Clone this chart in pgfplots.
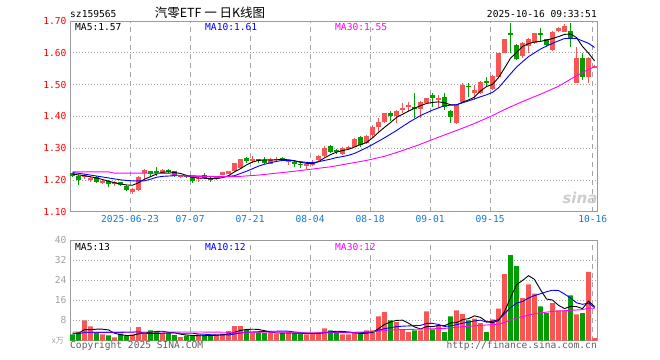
\documentclass[border=0pt]{standalone}
\usepackage{fontspec}
\usepackage{pgfplots}
\usepackage{pgfplotstable}
\pgfplotsset{compat=1.18}
\setmainfont{DejaVu Sans Mono}
\newfontfamily\cjk{Noto Sans CJK SC}
\newfontfamily\dsans{DejaVu Sans}
\definecolor{candR}{RGB}{250,85,85}
\definecolor{candG}{RGB}{0,158,0}
\definecolor{gridc}{RGB}{165,165,165}
\definecolor{framec}{RGB}{155,155,155}
\definecolor{xlab}{RGB}{20,120,210}
\definecolor{vlab}{RGB}{160,160,160}
\definecolor{ma10}{RGB}{0,0,255}
\definecolor{ma30}{RGB}{255,0,255}
\definecolor{foot}{RGB}{95,95,95}
\newcommand\tfont{\fontsize{9.6bp}{11bp}\selectfont}

% red candles: index open high low close
\pgfplotstableread{
i o h l c
2 1.210 1.220 1.205 1.216
3 1.200 1.212 1.195 1.207
5 1.192 1.199 1.189 1.197
7 1.190 1.197 1.182 1.195
10 1.163 1.174 1.158 1.172
11 1.169 1.213 1.165 1.211
12 1.224 1.234 1.201 1.232
15 1.223 1.235 1.218 1.233
18 1.210 1.216 1.207 1.214
21 1.205 1.210 1.194 1.208
24 1.204 1.214 1.200 1.209
25 1.217 1.227 1.215 1.225
26 1.220 1.230 1.218 1.228
27 1.228 1.255 1.226 1.253
28 1.237 1.268 1.235 1.265
30 1.262 1.276 1.255 1.266
33 1.252 1.270 1.250 1.266
34 1.262 1.272 1.256 1.268
36 1.260 1.264 1.248 1.263
39 1.246 1.255 1.236 1.250
40 1.248 1.262 1.244 1.258
41 1.263 1.279 1.258 1.276
42 1.276 1.308 1.272 1.302
45 1.282 1.303 1.279 1.300
46 1.299 1.308 1.295 1.305
47 1.305 1.332 1.303 1.329
49 1.318 1.342 1.315 1.339
50 1.342 1.372 1.336 1.368
51 1.368 1.395 1.350 1.384
52 1.384 1.412 1.380 1.410
54 1.402 1.420 1.380 1.417
55 1.422 1.443 1.410 1.428
56 1.429 1.446 1.415 1.435
58 1.424 1.448 1.395 1.446
59 1.441 1.459 1.438 1.457
61 1.452 1.467 1.426 1.457
64 1.380 1.438 1.377 1.436
65 1.445 1.504 1.442 1.500
67 1.474 1.499 1.452 1.482
68 1.473 1.512 1.470 1.509
70 1.485 1.530 1.482 1.527
71 1.525 1.600 1.522 1.598
72 1.600 1.645 1.598 1.642
75 1.590 1.634 1.583 1.630
76 1.620 1.648 1.600 1.645
77 1.632 1.663 1.628 1.661
80 1.609 1.668 1.606 1.666
81 1.669 1.682 1.666 1.677
82 1.666 1.690 1.664 1.684
84 1.506 1.619 1.504 1.583
86 1.523 1.586 1.506 1.583
87 1.555 1.562 1.552 1.558
}\redtab

% green candles
\pgfplotstableread{
i o h l c
0 1.222 1.224 1.210 1.214
1 1.214 1.215 1.186 1.200
4 1.210 1.212 1.190 1.195
6 1.198 1.200 1.180 1.188
8 1.193 1.195 1.183 1.185
9 1.183 1.186 1.166 1.170
13 1.228 1.230 1.212 1.220
14 1.228 1.240 1.214 1.221
16 1.232 1.234 1.222 1.227
17 1.228 1.230 1.210 1.214
19 1.214 1.216 1.206 1.210
20 1.210 1.212 1.192 1.198
22 1.215 1.222 1.204 1.207
23 1.208 1.209 1.193 1.201
29 1.271 1.273 1.254 1.260
31 1.266 1.268 1.254 1.259
32 1.263 1.272 1.250 1.255
35 1.269 1.272 1.262 1.266
37 1.258 1.260 1.242 1.251
38 1.252 1.257 1.238 1.248
43 1.307 1.310 1.286 1.290
44 1.295 1.298 1.281 1.287
48 1.337 1.340 1.305 1.312
53 1.410 1.418 1.385 1.402
57 1.431 1.475 1.394 1.424
60 1.467 1.473 1.431 1.458
62 1.462 1.473 1.420 1.431
63 1.418 1.420 1.379 1.399
66 1.497 1.505 1.462 1.492
69 1.512 1.523 1.494 1.506
73 1.661 1.695 1.600 1.655
74 1.625 1.628 1.578 1.580
78 1.661 1.677 1.635 1.655
79 1.642 1.645 1.620 1.624
83 1.669 1.695 1.619 1.646
85 1.583 1.598 1.515 1.525
}\greentab

\pgfplotstableread{
i v
0 1.219
2 1.214
4 1.207
6 1.197
7 1.192
8 1.188
9 1.185
10 1.184
11 1.192
12 1.203
13 1.211
14 1.219
15 1.225
16 1.226
17 1.224
18 1.221
19 1.215
20 1.209
21 1.207
22 1.206
23 1.205
24 1.205
25 1.208
26 1.214
27 1.226
28 1.236
29 1.248
30 1.257
31 1.262
32 1.264
33 1.263
34 1.264
35 1.265
36 1.264
37 1.261
38 1.256
39 1.253
40 1.252
41 1.258
42 1.270
43 1.280
44 1.288
45 1.293
46 1.297
47 1.304
48 1.312
49 1.318
50 1.333
51 1.350
52 1.366
53 1.381
54 1.397
55 1.407
56 1.417
57 1.426
58 1.434
59 1.441
60 1.444
61 1.446
62 1.443
63 1.437
64 1.436
65 1.445
66 1.452
67 1.461
68 1.480
69 1.494
70 1.501
71 1.522
72 1.552
73 1.583
74 1.601
75 1.620
76 1.629
77 1.634
78 1.636
79 1.640
80 1.645
81 1.651
82 1.658
83 1.659
84 1.648
85 1.620
86 1.599
87 1.575
}\mafive

\pgfplotstableread{
i v
0 1.224
2 1.219
4 1.213
6 1.207
8 1.201
9 1.199
10 1.198
12 1.198
13 1.203
14 1.209
15 1.212
17 1.214
19 1.214
21 1.213
23 1.212
25 1.210
27 1.214
28 1.221
29 1.228
30 1.236
31 1.244
32 1.250
33 1.255
34 1.259
35 1.262
36 1.262
37 1.260
38 1.258
39 1.256
40 1.255
41 1.258
42 1.262
43 1.266
44 1.271
45 1.274
46 1.278
47 1.284
48 1.293
49 1.302
50 1.312
52 1.333
54 1.356
56 1.381
58 1.403
60 1.420
62 1.434
64 1.437
66 1.449
68 1.462
69 1.468
70 1.476
71 1.490
72 1.512
73 1.534
74 1.555
75 1.572
76 1.588
77 1.600
78 1.612
80 1.630
82 1.645
84 1.645
86 1.630
87 1.617
}\maten

\pgfplotstableread{
i v
0 1.226
6 1.226
7 1.222
12 1.222
16 1.221
18 1.214
20 1.212
24 1.211
28 1.212
31 1.216
34 1.222
37 1.228
40 1.235
43 1.242
46 1.252
49 1.262
52 1.275
55 1.293
58 1.313
61 1.335
64 1.356
67 1.378
70 1.403
72 1.422
75 1.447
78 1.470
81 1.495
84 1.528
86 1.548
87 1.556
}\mathirty

\pgfplotstableread{
i v
2 8.0
3 5.6
5 2.4
7 1.2
10 2.4
11 5.3
12 2.7
15 2.9
18 1.3
21 2.4
24 2.4
25 2.7
26 3.7
27 5.7
28 5.7
30 3.2
33 3.2
34 2.7
36 3.2
39 2.4
40 2.7
41 3.2
42 4.8
45 2.4
46 2.4
47 2.9
49 4.0
50 4.0
51 9.6
52 11.3
54 7.3
55 4.4
56 3.3
58 4.0
59 11.6
61 6.0
64 12.0
65 10.5
67 8.7
68 6.9
70 8.4
71 12.7
72 26.4
75 16.9
76 22.3
77 18.7
80 14.9
81 12.0
82 12.0
84 10.4
86 27.3
87 0.9
}\volred

\pgfplotstableread{
i v
0 2.4
1 3.3
4 3.2
6 2.0
8 2.7
9 1.9
13 4.0
14 3.5
16 2.9
17 2.1
19 1.9
20 1.9
22 2.1
23 1.9
29 4.3
31 3.2
32 2.9
35 2.9
37 2.9
38 2.7
43 4.0
44 3.6
48 2.9
53 8.0
57 4.0
60 4.4
62 3.3
63 9.6
66 8.0
69 3.3
73 34.0
74 29.6
78 13.6
79 10.9
83 18.0
85 10.9
}\volgreen

\pgfplotstableread{
i v
0 2.9
1 2.9
2 4.3
3 4.3
4 4.5
5 4.5
6 4.2
7 2.9
8 2.3
9 2.0
10 2.0
11 2.7
12 3.0
13 3.3
14 3.6
15 3.7
16 3.2
17 3.1
18 2.5
19 2.2
20 2.0
21 1.9
22 1.9
23 2.0
24 2.1
25 2.3
26 2.6
27 3.3
28 4.0
29 4.4
30 4.5
31 4.4
32 3.9
33 3.4
34 3.0
35 3.0
36 3.0
37 3.0
38 2.9
39 2.8
40 2.8
41 2.8
42 3.2
43 3.4
44 3.7
45 3.6
46 3.4
47 3.1
48 2.8
49 2.9
50 3.2
51 4.7
52 6.4
53 7.4
54 8.0
55 8.1
56 6.9
57 5.4
58 4.6
59 5.5
60 5.5
61 6.0
62 5.9
63 7.0
64 7.1
65 8.3
66 8.7
67 9.8
68 9.2
69 7.5
70 7.1
71 8.0
72 11.5
73 17.0
74 22.2
75 23.9
76 25.8
77 24.3
78 20.2
79 16.5
80 16.1
81 14.0
82 12.7
83 13.6
84 13.5
85 12.7
86 15.7
87 13.5
}\vmafive

\pgfplotstableread{
i v
0 2.7
1 2.7
2 3.2
8 3.2
9 3.3
10 3.3
11 3.5
12 2.9
13 2.8
14 2.8
15 2.9
16 3.0
17 3.0
18 2.9
19 2.9
20 2.9
21 2.6
22 2.5
23 2.3
24 2.2
25 2.2
26 2.2
27 2.6
28 3.0
29 3.3
30 3.4
31 3.5
32 3.6
33 3.7
34 3.7
35 3.75
36 3.7
37 3.4
38 3.1
39 2.9
40 2.9
41 2.9
42 3.1
43 3.2
44 3.2
45 3.2
46 3.1
47 3.1
48 3.1
49 3.3
50 3.4
51 4.1
52 4.7
53 5.1
54 5.5
55 5.7
56 5.8
57 5.9
58 6.0
59 6.8
60 6.8
61 6.4
62 5.6
63 5.8
64 6.3
65 6.9
66 7.3
67 7.8
68 8.1
69 7.3
70 7.7
71 8.3
72 10.7
73 13.1
74 14.9
75 15.5
76 16.9
77 17.9
78 18.6
79 19.4
80 20.0
81 19.9
82 18.5
83 16.9
84 15.0
85 14.4
86 14.9
87 13.1
}\vmaten

\pgfplotstableread{
i v
0 3.4
20 3.4
25 3.3
29 3.3
35 3.3
41 3.3
47 3.3
50 3.5
53 4.2
56 4.4
59 4.6
62 4.8
65 5.5
68 6.0
71 6.5
72 7.2
73 8.2
74 9.0
75 9.5
77 10.7
80 11.6
83 12.0
85 12.3
86 12.9
87 12.8
}\vmathirty

\pgfplotsset{
  wick/.style={forget plot, draw=none, mark=none,
    error bars/.cd, y dir=both, y explicit, error mark=none,
    error bar style={line width=1bp, draw=#1, solid}},
  body/.style={forget plot, draw=none, mark=none,
    error bars/.cd, y dir=both, y explicit, error mark=none,
    error bar style={line width=4.6bp, draw=#1, solid}},
  panel/.style={
    anchor=north west, scale only axis, width=527.7bp,
    xmin=-0.417, xmax=87.53,
    axis line style={framec, line width=1bp},
    major tick length=0pt,
    xtick={9.6,19.6,29.6,39.6,49.6,59.6,69.6,86.7},
    xmajorgrids, ymajorgrids,
    x grid style={gridc, line width=1bp, dash pattern=on 5bp off 4bp},
    y grid style={gridc, line width=1bp, dash pattern=on 1bp off 2bp},
    tick label style={font=\tfont},
  },
}

\begin{document}
\begin{tikzpicture}
\path[use as bounding box] (0,0) rectangle (660bp,-360bp);

\begin{axis}[panel, at={(70bp,-21bp)}, height=191bp,
  ymin=1.10, ymax=1.70,
  xticklabels={2025-06-23,07-07,07-21,08-04,08-18,09-01,09-15,10-16},
  ytick={1.1,1.2,1.3,1.4,1.5,1.6,1.7},
  yticklabels={1.10,1.20,1.30,1.40,1.50,1.60,1.70},
  yticklabel style={text=red},
  xticklabel style={text=xlab},
]
\addplot[wick=candR] table[x=i, y expr={(\thisrow{h}+\thisrow{l})/2}, y error expr={(\thisrow{h}-\thisrow{l})/2}] {\redtab};
\addplot[body=candR] table[x=i, y expr={(\thisrow{o}+\thisrow{c})/2}, y error expr={abs(\thisrow{c}-\thisrow{o})/2}] {\redtab};
\addplot[wick=candG] table[x=i, y expr={(\thisrow{h}+\thisrow{l})/2}, y error expr={(\thisrow{h}-\thisrow{l})/2}] {\greentab};
\addplot[body=candG] table[x=i, y expr={(\thisrow{o}+\thisrow{c})/2}, y error expr={abs(\thisrow{c}-\thisrow{o})/2}] {\greentab};
\addplot[black, line width=0.9bp, mark=none] table[x=i, y=v] {\mafive};
\addplot[ma10, line width=0.9bp, mark=none] table[x=i, y=v] {\maten};
\addplot[ma30, line width=0.9bp, mark=none] table[x=i, y=v] {\mathirty};
\end{axis}

\begin{axis}[panel, at={(70bp,-240bp)}, height=100.5bp,
  ymin=0, ymax=40,
  xticklabels={},
  ytick={8,16,24,32,40},
  yticklabels={8,16,24,32,40},
  yticklabel style={text=vlab},
]
\addplot[ybar, bar width=0.78, bar shift=0pt, fill=candR, draw=none] table[x=i, y=v] {\volred};
\addplot[ybar, bar width=0.78, bar shift=0pt, fill=candG, draw=none] table[x=i, y=v] {\volgreen};
\addplot[black, line width=0.9bp, mark=none] table[x=i, y=v] {\vmafive};
\addplot[ma10, line width=0.9bp, mark=none] table[x=i, y=v] {\vmaten};
\addplot[ma30, line width=0.9bp, mark=none] table[x=i, y=v] {\vmathirty};
\end{axis}

% header
\node[anchor=base west, inner sep=0pt, font=\tfont] at (70bp,-17bp) {sz159565};
\node[anchor=base, inner sep=0pt, font=\cjk\fontsize{12.5bp}{13bp}\selectfont] at (210bp,-17bp) {汽零ETF\ 一\ 日K线图};
\node[anchor=base east, inner sep=0pt, font=\tfont] at (597bp,-17bp) {2025-10-16 09:33:51};
% MA labels
\node[anchor=base west, inner sep=0pt, font=\tfont] at (75bp,-30bp) {MA5:1.57};
\node[anchor=base west, inner sep=0pt, font=\tfont, text=ma10] at (205bp,-30bp) {MA10:1.61};
\node[anchor=base west, inner sep=0pt, font=\tfont, text=ma30] at (335bp,-30bp) {MA30:1.55};
\node[anchor=base west, inner sep=0pt, font=\tfont] at (75bp,-250bp) {MA5:13};
\node[anchor=base west, inner sep=0pt, font=\tfont, text=ma10] at (205bp,-250bp) {MA10:12};
\node[anchor=base west, inner sep=0pt, font=\tfont, text=ma30] at (335bp,-250bp) {MA30:12};
% watermark
\node[inner sep=0pt, font=\dsans\fontsize{15bp}{15bp}\selectfont\bfseries\itshape, text={rgb,255:red,205;green,205;blue,205}] at (580bp,-198bp) {sina};
% footer
\node[anchor=base east, inner sep=0pt, font=\cjk\fontsize{8bp}{9bp}\selectfont, text=vlab] at (64bp,-343bp) {x万};
\node[anchor=base west, inner sep=0pt, font=\tfont, text=foot] at (70bp,-348bp) {Copyright 2025 SINA.COM};
\node[anchor=base east, inner sep=0pt, font=\tfont, text=foot] at (597bp,-348bp) {http://finance.sina.com.cn};
\end{tikzpicture}
\end{document}
